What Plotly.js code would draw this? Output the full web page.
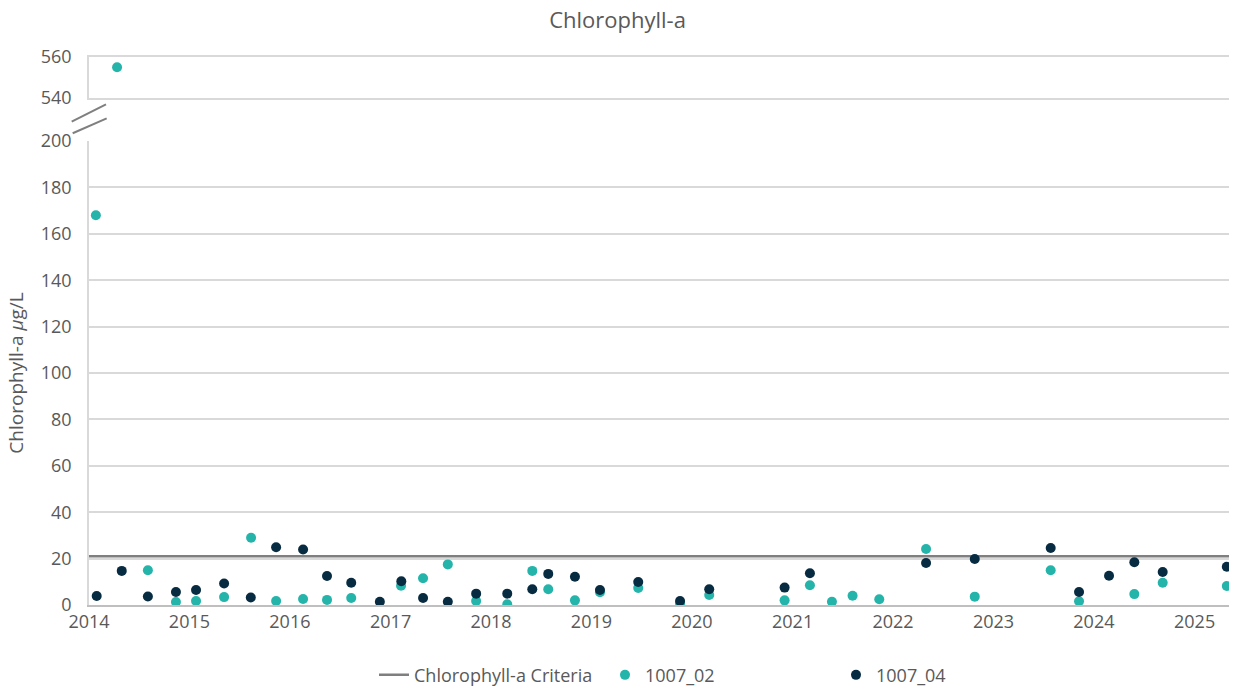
<!DOCTYPE html>
<html>
<head>
<meta charset="utf-8">
<script src="https://cdn.plot.ly/plotly-3.0.1.min.js"></script>
<style>
  body { margin: 0; background: #fff; }
  #chart { width: 1235px; height: 689px; }
</style>
</head>
<body>
<div id="chart"></div>
<script>
// sampling dates and chlorophyll-a values (ug/L)
var dates02 = ['2014-01-26', '2014-04-13', '2014-08-03', '2014-11-13', '2015-01-25', '2015-05-07',
    '2015-08-13', '2015-11-12', '2016-02-18', '2016-05-15', '2016-08-11', '2017-02-08',
    '2017-04-29', '2017-07-28', '2017-11-08', '2018-03-01', '2018-05-31', '2018-07-28',
    '2018-11-02', '2019-02-01', '2019-06-20', '2019-11-19', '2020-03-04', '2020-12-03',
    '2021-03-05', '2021-05-24', '2021-08-07', '2021-11-12', '2022-05-01', '2022-10-25',
    '2023-07-28', '2023-11-08', '2024-05-27', '2024-09-07', '2025-04-28'];
var chla02 = [168, 555, 15, 1.3, 1.7, 3.4,
    29, 1.7, 2.6, 2.2, 3.0, 8.3,
    11.5, 17.5, 1.7, 0.3, 14.7, 6.8,
    2.0, 5.5, 7.3, 0.7, 4.3, 2.0,
    8.5, 1.4, 4.0, 2.5, 24.1, 3.6,
    15.0, 1.6, 4.7, 9.6, 8.2];

var dates04 = ['2014-01-29', '2014-04-30', '2014-08-03', '2014-11-13', '2015-01-25', '2015-05-07',
    '2015-08-12', '2015-11-12', '2016-02-18', '2016-05-15', '2016-08-11', '2016-11-23',
    '2017-02-09', '2017-04-29', '2017-07-28', '2017-11-08', '2018-03-01', '2018-05-31',
    '2018-07-28', '2018-11-02', '2019-02-01', '2019-06-20', '2019-11-19', '2020-03-04',
    '2020-12-03', '2021-03-05', '2022-05-01', '2022-10-25', '2023-07-28', '2023-11-08',
    '2024-02-25', '2024-05-27', '2024-09-07', '2025-04-28'];
var chla04 = [3.9, 14.7, 3.7, 5.6, 6.5, 9.3,
    3.2, 24.9, 23.9, 12.5, 9.6, 1.4,
    10.2, 3.0, 1.4, 4.9, 4.9, 6.8,
    13.4, 12.2, 6.5, 9.9, 1.7, 6.8,
    7.5, 13.7, 18.1, 19.8, 24.6, 5.6,
    12.6, 18.4, 14.2, 16.5];

var criteriaDates = ['2014-01-01', '2025-05-06'];
var criteriaValue = [21, 21];

var breakAt = 200;   // values above this go to the upper panel

var gray = '#595959';
var font = '"Open Sans", Lato, sans-serif';

function lowPart(xs, ys) {
    var out = {x: [], y: []};
    for (var i = 0; i < ys.length; i++) {
        if (ys[i] <= breakAt) { out.x.push(xs[i]); out.y.push(ys[i]); }
    }
    return out;
}
function highPart(xs, ys) {
    var out = {x: [], y: []};
    for (var i = 0; i < ys.length; i++) {
        if (ys[i] > breakAt) { out.x.push(xs[i]); out.y.push(ys[i]); }
    }
    return out;
}

var lo02 = lowPart(dates02, chla02), hi02 = highPart(dates02, chla02);
var lo04 = lowPart(dates04, chla04), hi04 = highPart(dates04, chla04);

var teal = '#24b4aa';
var navy = '#072c42';

var data = [{
    x: criteriaDates, y: criteriaValue, type: 'scatter', mode: 'lines',
    name: 'Chlorophyll-a Criteria', line: {color: '#7f7f7f', width: 2.5}
}, {
    x: lo02.x, y: lo02.y, type: 'scatter', mode: 'markers', name: '1007_02',
    marker: {color: teal, size: 10}
}, {
    x: hi02.x, y: hi02.y, type: 'scatter', mode: 'markers', name: '1007_02',
    xaxis: 'x2', yaxis: 'y2', showlegend: false, marker: {color: teal, size: 10}
}, {
    x: lo04.x, y: lo04.y, type: 'scatter', mode: 'markers', name: '1007_04',
    marker: {color: navy, size: 10}
}, {
    x: hi04.x, y: hi04.y, type: 'scatter', mode: 'markers', name: '1007_04',
    xaxis: 'x2', yaxis: 'y2', showlegend: false, marker: {color: navy, size: 10}
}];

var layout = {
    width: 1235, height: 689,
    margin: {t: 57, l: 89, r: 6, b: 84, autoexpand: false},
    paper_bgcolor: '#fff', plot_bgcolor: '#fff',
    font: {family: font, color: gray, size: 18},
    title: {text: 'Chlorophyll-a', font: {size: 22, color: gray}, x: 0.5, xanchor: 'center', y: 0.97, yanchor: 'middle'},
    showlegend: true,
    legend: {orientation: 'h', x: 0.25, xanchor: 'left', y: -0.128, yanchor: 'middle',
        font: {size: 18, color: gray}, entrywidth: 186, entrywidthmode: 'pixels', traceorder: 'normal'},
    xaxis: {
        type: 'date', range: ['2014-01-01', '2025-05-06'], anchor: 'y',
        dtick: 'M12', tick0: '2014-01-01', tickformat: '%Y',
        showgrid: false, zeroline: false, showline: true, linecolor: '#bfbfbf', linewidth: 1.5,
        ticks: '', tickfont: {size: 18, color: gray}
    },
    xaxis2: {
        type: 'date', matches: 'x', anchor: 'y2', showticklabels: false,
        showgrid: false, zeroline: false, showline: true, mirror: true,
        linecolor: '#d9d9d9', linewidth: 1.5, ticks: ''
    },
    yaxis: {
        domain: [0, 0.8467], range: [0, 200], dtick: 20,
        showgrid: true, gridcolor: '#d9d9d9', gridwidth: 1.5, zeroline: false,
        showline: true, linecolor: '#d9d9d9', linewidth: 1.5,
        ticks: '', ticklabelstandoff: 12, tickfont: {size: 18, color: gray},
        title: {text: 'Chlorophyll-a <i>µ</i>g/L', font: {size: 19, color: gray}, standoff: 12}
    },
    yaxis2: {
        domain: [0.9252, 1], range: [540, 560], tickvals: [540, 560], anchor: 'x2',
        showgrid: false, zeroline: false,
        showline: true, linecolor: '#d9d9d9', linewidth: 1.5,
        ticks: '', ticklabelstandoff: 12, tickfont: {size: 18, color: gray}
    },
    shapes: [
        {type: 'line', xref: 'paper', yref: 'paper', x0: -0.0152, y0: 0.8819, x1: 0.0149, y1: 0.9137,
            line: {color: '#7f7f7f', width: 2}},
        {type: 'line', xref: 'paper', yref: 'paper', x0: -0.0143, y0: 0.8608, x1: 0.0155, y1: 0.8881,
            line: {color: '#7f7f7f', width: 2}}
    ]
};

Plotly.newPlot('chart', data, layout, {displayModeBar: false});
</script>
</body>
</html>
